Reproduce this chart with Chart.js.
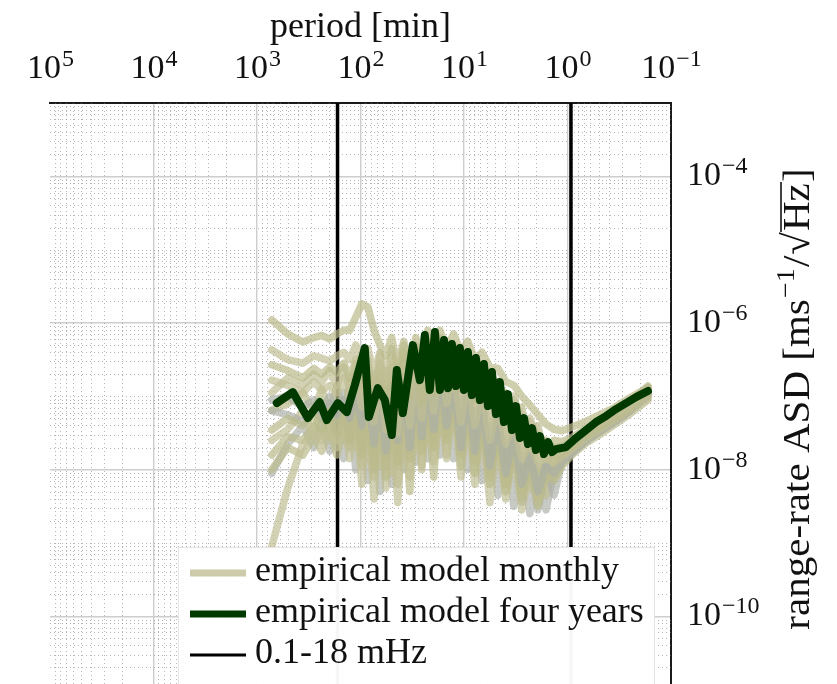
<!DOCTYPE html>
<html>
<head>
<meta charset="utf-8">
<script src="https://cdn.jsdelivr.net/npm/chart.js@4.4.1/dist/chart.umd.min.js"></script>
<style>
  html, body { margin: 0; padding: 0; background: #fff; overflow: hidden; }
  canvas { display: block; }
</style>
</head>
<body>
<canvas id="asdChart" width="837" height="684"></canvas>
<script>
// axis ticks: period [min] on top, range-rate ASD on the right (labels are 10 to the exponent)
const xTicks = [0.1, 1, 10, 100, 1000, 10000, 100000];
const xTickExponents = ['−1', '0', '1', '2', '3', '4', '5'];
const yTicks = [1e-10, 1e-8, 1e-6, 1e-4];
const yTickExponents = ['−10', '−8', '−6', '−4'];

// 0.1 mHz and 18 mHz expressed as periods in minutes
const bandPeriods = [166.7, 0.926];

// monthly models share one period grid [min]
const monthlyPeriod = [720, 505, 360, 283, 237, 198, 169, 145, 127, 111, 97, 85, 74, 65, 57, 50, 43.6, 38.2, 33.4, 29.2,
  25.6, 22.4, 19.6, 17.1, 14.7, 12.6, 10.7, 9.2, 7.85, 6.71, 5.62, 4.70, 3.94, 3.30, 2.76, 2.31, 1.93, 1.61, 1.35, 1.13,
  0.904, 0.677, 0.485, 0.347, 0.249, 0.167];

const monthly01 = [1.10e-6, 7.08e-7, 5.50e-7, 6.31e-7, 6.76e-7, 6.03e-7, 7.08e-7, 7.94e-7, 7.94e-7, 1.20e-6,
  1.82e-6, 1.66e-6, 7.94e-7, 5.01e-7, 3.55e-7, 6.31e-7, 2.51e-7, 5.62e-7, 2.0e-7, 6.31e-7,
  2.82e-7, 7.94e-7, 3.98e-7, 7.94e-7, 4.47e-7, 7.08e-7, 3.98e-7, 5.62e-7, 3.16e-7, 3.98e-7,
  2.51e-7, 2.40e-7, 1.58e-7, 1.41e-7, 1.0e-7, 7.59e-8, 5.62e-8, 4.17e-8, 3.55e-8, 3.39e-8,
  3.80e-8, 4.47e-8, 5.62e-8, 7.08e-8, 9.55e-8, 1.32e-7];
const monthly02 = [4.27e-7, 3.16e-7, 2.82e-7, 3.55e-7, 3.31e-7, 3.02e-7, 3.55e-7, 3.98e-7, 3.16e-7, 5.01e-7,
  2.82e-7, 4.47e-7, 2.0e-7, 3.98e-7, 1.58e-7, 4.47e-7, 1.78e-7, 5.01e-7, 1.26e-7, 5.01e-7,
  1.58e-7, 5.62e-7, 2.0e-7, 6.31e-7, 2.51e-7, 5.01e-7, 2.24e-7, 3.98e-7, 1.58e-7, 2.82e-7,
  1.26e-7, 1.58e-7, 8.91e-8, 8.91e-8, 5.01e-8, 4.47e-8, 2.82e-8, 2.40e-8, 2.0e-8, 2.09e-8,
  2.51e-8, 3.31e-8, 4.37e-8, 5.75e-8, 7.59e-8, 1.26e-7];
const monthly03 = [2.69e-7, 2.24e-7, 1.78e-7, 2.40e-7, 2.0e-7, 2.51e-7, 2.09e-7, 2.82e-7, 1.78e-7, 3.16e-7,
  1.41e-7, 2.51e-7, 1.0e-7, 2.82e-7, 7.94e-8, 2.51e-7, 6.31e-8, 3.16e-7, 1.0e-7, 3.55e-7,
  7.94e-8, 3.98e-7, 1.12e-7, 4.47e-7, 1.41e-7, 3.55e-7, 1.26e-7, 2.82e-7, 8.91e-8, 1.78e-7,
  7.94e-8, 1.12e-7, 5.62e-8, 6.31e-8, 3.55e-8, 3.16e-8, 2.0e-8, 1.78e-8, 1.51e-8, 1.66e-8,
  2.09e-8, 2.82e-8, 3.80e-8, 5.01e-8, 6.92e-8, 1.12e-7];
const monthly04 = [1.66e-7, 1.41e-7, 1.12e-7, 1.58e-7, 1.20e-7, 1.41e-7, 1.12e-7, 1.78e-7, 8.91e-8, 2.0e-7,
  7.08e-8, 1.78e-7, 4.47e-8, 2.0e-7, 3.55e-8, 1.78e-7, 3.16e-8, 2.24e-7, 3.98e-8, 2.51e-7,
  5.01e-8, 2.82e-7, 6.31e-8, 3.16e-7, 7.94e-8, 2.51e-7, 4.47e-8, 2.0e-7, 3.98e-8, 1.26e-7,
  2.51e-8, 7.94e-8, 2.24e-8, 4.47e-8, 1.41e-8, 2.24e-8, 1.26e-8, 1.41e-8, 1.26e-8, 1.51e-8,
  1.91e-8, 2.63e-8, 3.55e-8, 4.79e-8, 6.61e-8, 9.55e-8];
const monthly05 = [8.91e-8, 1.0e-7, 7.08e-8, 8.91e-8, 6.31e-8, 1.0e-7, 5.62e-8, 1.12e-7, 5.01e-8, 1.26e-7,
  3.98e-8, 1.12e-7, 2.24e-8, 1.41e-7, 1.78e-8, 1.26e-7, 2.51e-8, 1.58e-7, 2.0e-8, 1.78e-7,
  2.82e-8, 2.0e-7, 3.55e-8, 2.24e-7, 3.98e-8, 1.78e-7, 2.0e-8, 1.41e-7, 1.78e-8, 8.91e-8,
  1.12e-8, 5.01e-8, 8.91e-9, 3.16e-8, 6.31e-9, 1.58e-8, 5.01e-9, 1.12e-8, 8.91e-9, 1.26e-8,
  1.66e-8, 2.40e-8, 3.31e-8, 4.47e-8, 6.31e-8, 1.0e-7];
const monthly06 = [3.47e-8, 5.01e-8, 3.98e-8, 5.62e-8, 3.55e-8, 6.31e-8, 3.16e-8, 7.08e-8, 2.51e-8, 7.94e-8,
  1.58e-8, 8.91e-8, 1.0e-8, 1.0e-7, 7.94e-9, 8.91e-8, 1.26e-8, 1.12e-7, 1.41e-8, 1.26e-7,
  1.78e-8, 1.41e-7, 2.0e-8, 1.58e-7, 2.51e-8, 1.26e-7, 1.12e-8, 1.0e-7, 8.91e-9, 6.31e-8,
  6.31e-9, 3.55e-8, 5.01e-9, 2.24e-8, 3.98e-9, 1.26e-8, 3.16e-9, 8.91e-9, 7.08e-9, 1.12e-8,
  1.58e-8, 2.24e-8, 3.02e-8, 4.17e-8, 5.75e-8, 8.91e-8];
const monthly07 = [8.91e-10, 5.62e-9, 2.24e-8, 3.16e-8, 2.51e-8, 4.47e-8, 2.0e-8, 5.01e-8, 1.41e-8, 5.62e-8,
  6.31e-9, 6.31e-8, 3.98e-9, 7.08e-8, 5.62e-9, 7.94e-8, 3.55e-9, 8.91e-8, 7.94e-9, 1.0e-7,
  1.0e-8, 1.12e-7, 1.26e-8, 1.26e-7, 1.41e-8, 1.0e-7, 7.94e-9, 7.08e-8, 6.31e-9, 4.47e-8,
  3.55e-9, 2.82e-8, 3.98e-9, 1.78e-8, 2.82e-9, 1.0e-8, 3.55e-9, 7.94e-9, 7.94e-9, 1.20e-8,
  1.74e-8, 2.51e-8, 3.47e-8, 4.79e-8, 6.61e-8, 1.05e-7];
const monthly08 = [1.0e-8, 2.0e-8, 1.58e-8, 2.82e-8, 1.78e-8, 3.55e-8, 1.58e-8, 3.98e-8, 2.0e-8, 4.47e-8,
  1.12e-8, 5.01e-8, 7.94e-9, 5.62e-8, 1.12e-8, 6.31e-8, 6.31e-9, 7.08e-8, 5.01e-9, 7.94e-8,
  1.12e-8, 8.91e-8, 7.94e-9, 1.0e-7, 1.58e-8, 8.91e-8, 1.58e-8, 7.94e-8, 1.26e-8, 5.62e-8,
  7.94e-9, 3.98e-8, 6.31e-9, 2.51e-8, 5.01e-9, 1.41e-8, 4.47e-9, 1.0e-8, 8.91e-9, 1.32e-8,
  1.82e-8, 2.51e-8, 3.47e-8, 4.68e-8, 6.46e-8, 1.0e-7];
const monthly09 = [6.31e-8, 5.62e-8, 4.47e-8, 6.31e-8, 5.01e-8, 7.94e-8, 4.47e-8, 8.91e-8, 3.98e-8, 1.0e-7,
  2.82e-8, 1.26e-7, 2.0e-8, 1.12e-7, 2.51e-8, 1.41e-7, 1.58e-8, 1.58e-7, 2.51e-8, 1.78e-7,
  3.16e-8, 2.0e-7, 2.51e-8, 2.0e-7, 3.16e-8, 1.58e-7, 1.78e-8, 1.26e-7, 1.41e-8, 7.94e-8,
  8.91e-9, 4.47e-8, 6.31e-9, 2.82e-8, 3.55e-9, 1.58e-8, 2.82e-9, 1.12e-8, 4.47e-9, 1.26e-8,
  1.74e-8, 2.40e-8, 3.31e-8, 4.57e-8, 6.31e-8, 1.10e-7];
const monthly10 = [1.12e-7, 1.78e-7, 1.41e-7, 2.0e-7, 1.58e-7, 2.24e-7, 1.41e-7, 2.51e-7, 1.26e-7, 2.82e-7,
  1.12e-7, 3.16e-7, 7.94e-8, 3.55e-7, 8.91e-8, 3.55e-7, 1.0e-7, 3.98e-7, 7.94e-8, 4.47e-7,
  1.0e-7, 5.01e-7, 1.26e-7, 5.01e-7, 1.58e-7, 4.47e-7, 1.41e-7, 3.55e-7, 1.12e-7, 2.51e-7,
  8.91e-8, 1.58e-7, 6.31e-8, 1.0e-7, 3.98e-8, 5.01e-8, 2.51e-8, 2.51e-8, 1.91e-8, 2.0e-8,
  2.40e-8, 3.16e-8, 4.17e-8, 5.50e-8, 7.59e-8, 1.32e-7];
const monthly11 = [1.58e-8, 2.82e-8, 2.51e-8, 3.98e-8, 2.82e-8, 5.01e-8, 2.51e-8, 5.62e-8, 2.0e-8, 6.31e-8,
  2.24e-8, 7.08e-8, 1.26e-8, 7.94e-8, 1.58e-8, 8.91e-8, 1.12e-8, 1.0e-7, 2.24e-8, 1.12e-7,
  2.51e-8, 1.26e-7, 2.82e-8, 1.41e-7, 3.16e-8, 1.12e-7, 2.82e-8, 8.91e-8, 2.24e-8, 7.08e-8,
  1.58e-8, 4.47e-8, 1.26e-8, 2.82e-8, 8.91e-9, 1.78e-8, 7.08e-9, 1.26e-8, 1.12e-8, 1.41e-8,
  2.0e-8, 2.75e-8, 3.80e-8, 5.13e-8, 7.08e-8, 1.12e-7];
const monthly12 = [2.51e-8, 3.55e-8, 6.31e-8, 3.16e-8, 7.08e-8, 2.82e-8, 7.94e-8, 2.51e-8, 8.91e-8, 2.0e-8,
  1.0e-7, 1.41e-8, 1.12e-7, 1.12e-8, 1.26e-7, 8.91e-9, 1.41e-7, 1.78e-8, 1.58e-7, 2.24e-8,
  1.78e-7, 2.51e-8, 2.0e-7, 3.16e-8, 2.0e-7, 3.55e-8, 1.78e-7, 2.82e-8, 1.41e-7, 2.0e-8,
  1.0e-7, 1.41e-8, 6.31e-8, 1.0e-8, 3.55e-8, 5.62e-9, 2.0e-8, 4.47e-9, 1.41e-8, 1.58e-8,
  2.19e-8, 3.02e-8, 3.98e-8, 5.37e-8, 7.41e-8, 1.20e-7];
const monthly13 = [6.46e-8, 7.94e-8, 1.12e-7, 6.31e-8, 1.26e-7, 5.62e-8, 1.41e-7, 4.47e-8, 1.58e-7, 3.55e-8,
  1.78e-7, 2.51e-8, 2.0e-7, 2.82e-8, 2.24e-7, 2.0e-8, 2.51e-7, 3.55e-8, 2.82e-7, 4.47e-8,
  3.16e-7, 5.62e-8, 3.55e-7, 6.31e-8, 3.55e-7, 7.08e-8, 3.16e-7, 5.62e-8, 2.51e-7, 3.98e-8,
  1.78e-7, 2.82e-8, 1.12e-7, 2.0e-8, 7.08e-8, 1.26e-8, 3.98e-8, 1.12e-8, 2.51e-8, 2.40e-8,
  2.75e-8, 3.55e-8, 4.57e-8, 6.03e-8, 8.13e-8, 1.38e-7];
const monthly14 = [8.91e-9, 2.24e-8, 3.98e-8, 2.0e-8, 4.47e-8, 1.78e-8, 5.01e-8, 1.41e-8, 5.62e-8, 1.0e-8,
  6.31e-8, 7.08e-9, 7.08e-8, 5.01e-9, 7.94e-8, 6.31e-9, 8.91e-8, 1.0e-8, 1.0e-7, 1.26e-8,
  1.12e-7, 1.41e-8, 1.12e-7, 1.58e-8, 1.0e-7, 1.41e-8, 8.91e-8, 1.0e-8, 6.31e-8, 7.08e-9,
  3.98e-8, 4.47e-9, 2.51e-8, 3.16e-9, 1.58e-8, 2.51e-9, 1.12e-8, 2.82e-9, 1.0e-8, 1.38e-8,
  1.91e-8, 2.63e-8, 3.55e-8, 4.90e-8, 6.76e-8, 1.07e-7];

// four year model
const fourYearPeriod = [645, 451, 323, 247.5, 211.8, 165.8, 135.7, 113.5, 90.9, 83.1,
  68.0, 58.2, 49.8, 44.6, 39.0, 31.2, 26.7, 23.9, 21.4, 19.1,
  17.1, 15.6, 14.3, 13.1, 11.98, 10.96, 10.02, 9.17, 8.39, 7.67,
  7.02, 6.42, 5.87, 5.37, 4.91, 4.50, 4.11, 3.76, 3.44, 3.15,
  2.88, 2.63, 2.41, 2.20, 2.02, 1.85, 1.69, 1.54, 1.41, 1.29,
  1.034, 0.828, 0.662, 0.530, 0.424, 0.340, 0.272, 0.218, 0.167];
const fourYearAsd = [8.07e-8, 1.14e-7, 5.04e-8, 8.33e-8, 4.73e-8, 8.07e-8, 6.09e-8, 1.42e-7, 4.55e-7, 5.20e-8,
  1.29e-7, 8.88e-8, 2.96e-8, 2.28e-7, 5.90e-8, 4.99e-7, 1.66e-7, 6.84e-7, 1.22e-7, 7.51e-7,
  1.22e-7, 5.84e-7, 1.29e-7, 5.15e-7, 1.38e-7, 4.55e-7, 1.22e-7, 4.01e-7, 1.04e-7, 3.32e-7,
  8.88e-8, 2.75e-7, 7.35e-8, 2.14e-7, 5.72e-8, 1.56e-7, 4.45e-8, 1.07e-7, 3.46e-8, 7.35e-8,
  2.69e-8, 5.04e-8, 2.23e-8, 3.68e-8, 1.85e-8, 2.86e-8, 1.63e-8, 2.37e-8, 1.73e-8, 1.90e-8,
  2.03e-8, 2.69e-8, 3.46e-8, 4.45e-8, 5.37e-8, 6.69e-8, 8.07e-8, 9.75e-8, 1.18e-7];

const monthlySeries = [monthly01, monthly02, monthly03, monthly04, monthly05, monthly06, monthly07,
  monthly08, monthly09, monthly10, monthly11, monthly12, monthly13, monthly14];
const khaki = 'rgba(186,186,140,0.7)';
const khakiLight = 'rgba(192,191,150,0.7)';
const greyish = 'rgba(170,174,166,0.66)';
const monthlyColours = [khaki, khakiLight, khaki, khakiLight, greyish, khaki, khakiLight,
  khaki, greyish, khakiLight, khaki, khakiLight, khaki, greyish];

const serif = '"Liberation Serif", "DejaVu Serif", serif';
const labelFont = { family: serif, size: 36 };

function pairs(xs, ys) {
  return xs.map((x, i) => ({ x: x, y: ys[i] }));
}

const datasets = [
  {
    label: 'empirical model four years',
    data: pairs(fourYearPeriod, fourYearAsd),
    borderColor: 'rgb(0,58,0)',
    swatch: 'rgb(0,58,0)', swatchWidth: 7, legendRank: 1,
    borderWidth: 8,
    order: 0
  }
];
monthlySeries.forEach((vals, k) => {
  datasets.push({
    label: 'empirical model monthly',
    data: pairs(monthlyPeriod, vals),
    borderColor: monthlyColours[k],
    swatch: '#cdcbaa', swatchWidth: 7, legendRank: k === 0 ? 0 : -1,
    borderWidth: 7.5,
    order: k + 1
  });
});
datasets.push({
  label: '0.1-18 mHz',
  data: [
    { x: bandPeriods[0], y: 1e-3 }, { x: bandPeriods[0], y: 1e-12 }, { x: bandPeriods[0], y: null },
    { x: bandPeriods[1], y: 1e-12 }, { x: bandPeriods[1], y: 1e-3 }
  ],
  borderColor: '#000',
  swatch: '#000', swatchWidth: 3, legendRank: 2,
  borderWidth: 3.5,
  spanGaps: false,
  order: 50
});

const minorSteps = [2, 3, 4, 5, 6, 7, 8, 9];

// dotted minor grid, placed through the chart's own scales
const minorGrid = {
  id: 'minorGrid',
  beforeDatasetsDraw(chart) {
    const { ctx, chartArea: a, scales: { x, y } } = chart;
    ctx.save();
    ctx.beginPath();
    ctx.rect(a.left, a.top, a.right - a.left, a.bottom - a.top);
    ctx.clip();
    ctx.strokeStyle = 'rgba(120,120,120,0.55)';
    ctx.lineWidth = 1;
    ctx.setLineDash([1, 3]);
    for (let d = -1; d < 5; d++) {
      for (const m of minorSteps) {
        const px = Math.round(x.getPixelForValue(m * Math.pow(10, d))) + 0.5;
        ctx.beginPath();
        ctx.moveTo(px, a.top);
        ctx.lineTo(px, a.bottom);
        ctx.stroke();
      }
    }
    for (let d = -12; d < -3; d++) {
      const steps = d % 2 !== 0 ? [1].concat(minorSteps) : minorSteps;
      for (const m of steps) {
        const py = Math.round(y.getPixelForValue(m * Math.pow(10, d))) + 0.5;
        if (py < a.top || py > a.bottom) continue;
        ctx.beginPath();
        ctx.moveTo(a.left, py);
        ctx.lineTo(a.right, py);
        ctx.stroke();
      }
    }
    ctx.restore();
  }
};

// tick labels written as 10 with a raised exponent
const powerLabels = {
  id: 'powerLabels',
  afterDraw(chart) {
    const { ctx, chartArea: a, scales: { x, y } } = chart;
    const base = '34px ' + serif;
    const sup = '24px ' + serif;
    ctx.save();
    ctx.fillStyle = '#111';
    ctx.textBaseline = 'alphabetic';
    ctx.textAlign = 'left';
    ctx.font = base;
    const bw = ctx.measureText('10').width;
    xTicks.forEach((v, i) => {
      ctx.font = sup;
      const ew = ctx.measureText(xTickExponents[i]).width;
      const left = x.getPixelForValue(v) - (bw + ew) / 2;
      ctx.font = base;
      ctx.fillText('10', left, a.top - 25);
      ctx.font = sup;
      ctx.fillText(xTickExponents[i], left + bw + 1, a.top - 37);
    });
    yTicks.forEach((v, i) => {
      const py = y.getPixelForValue(v) + 9;
      const left = a.right + 16;
      ctx.font = base;
      ctx.fillText('10', left, py);
      ctx.font = sup;
      ctx.fillText(yTickExponents[i], left + bw + 1, py - 12);
    });
    ctx.restore();
  }
};

const boxLegend = {
  id: 'boxLegend',
  afterDraw(chart) {
    const { ctx } = chart;
    const items = chart.data.datasets.filter(d => d.legendRank >= 0).sort((p, q) => p.legendRank - q.legendRank);
    ctx.save();
    ctx.fillStyle = 'rgba(255,255,255,0.97)';
    ctx.strokeStyle = '#e4e4e4';
    ctx.lineWidth = 1;
    ctx.fillRect(178, 547, 477, 140);
    ctx.strokeRect(178.5, 547.5, 476, 140);
    ctx.font = '36px ' + serif;
    ctx.textBaseline = 'alphabetic';
    ctx.fillStyle = '#111';
    items.forEach((d, i) => {
      const rowY = 573 + i * 41;
      ctx.beginPath();
      ctx.strokeStyle = d.swatch;
      ctx.lineWidth = d.swatchWidth;
      ctx.moveTo(190, rowY);
      ctx.lineTo(246, rowY);
      ctx.stroke();
      ctx.fillText(d.label, 255, rowY + 8);
    });
    ctx.restore();
  }
};

const asdTitle = {
  id: 'asdTitle',
  afterDraw(chart) {
    const { ctx, chartArea: a } = chart;
    const big = '38px ' + serif;
    const small = '26px ' + serif;
    const parts = [
      { t: 'range-rate ASD [ms', f: big, dy: 0 },
      { t: '−1', f: small, dy: -15 },
      { t: '/', f: big, dy: 0 },
      { t: '√', f: big, dy: 0 },
      { t: 'Hz', f: big, dy: 0, bar: true },
      { t: ']', f: big, dy: 0 }
    ];
    ctx.save();
    let total = 0;
    parts.forEach(p => { ctx.font = p.f; p.w = ctx.measureText(p.t).width + 1; total += p.w; });
    ctx.translate(809, (a.top + a.bottom) / 2 + 5);
    ctx.rotate(-Math.PI / 2);
    ctx.scale(1.08, 1);
    ctx.fillStyle = '#111';
    ctx.strokeStyle = '#111';
    ctx.textBaseline = 'alphabetic';
    let cx = -total / 2;
    parts.forEach(p => {
      ctx.font = p.f;
      ctx.fillText(p.t, cx, p.dy);
      if (p.bar) {
        ctx.lineWidth = 1.6;
        ctx.beginPath();
        ctx.moveTo(cx - 1, -28);
        ctx.lineTo(cx + p.w, -28);
        ctx.stroke();
      }
      cx += p.w;
    });
    ctx.restore();
  }
};

new Chart(document.getElementById('asdChart'), {
  type: 'line',
  data: { datasets: datasets },
  options: {
    responsive: false,
    animation: false,
    events: [],
    layout: { padding: { left: 50, right: 0, top: 0, bottom: 0 } },
    elements: {
      point: { radius: 0 },
      line: { tension: 0, borderCapStyle: 'round', borderJoinStyle: 'round' }
    },
    plugins: { legend: { display: false }, tooltip: { enabled: false } },
    scales: {
      x: {
        type: 'logarithmic',
        position: 'top',
        reverse: true,
        min: 0.1,
        max: 1e5,
        afterBuildTicks: s => { s.ticks = xTicks.map(v => ({ value: v })); },
        afterFit: s => { s.height = 103; s.paddingLeft = 0; s.paddingRight = 0; },
        ticks: { display: false },
        grid: {
          color: c => (c.tick && (c.tick.value === 1e5 || c.tick.value === 0.1)) ? 'rgba(0,0,0,0)' : '#cdcdcd',
          lineWidth: 1.4,
          drawTicks: false
        },
        border: { display: true, color: '#1a1a1a', width: 2 },
        title: { display: true, text: 'period [min]', font: labelFont, color: '#111', padding: { top: 6, bottom: 0 } }
      },
      y: {
        type: 'logarithmic',
        position: 'right',
        min: 1.19e-11,
        max: 1e-3,
        afterBuildTicks: s => { s.ticks = yTicks.map(v => ({ value: v })); },
        afterFit: s => { s.width = 166; s.paddingTop = 0; s.paddingBottom = 0; },
        ticks: { display: false },
        grid: { color: '#cdcdcd', lineWidth: 1.4, drawTicks: false },
        border: { display: true, color: '#1a1a1a', width: 2 }
      }
    }
  },
  plugins: [minorGrid, powerLabels, boxLegend, asdTitle]
});
</script>
</body>
</html>
